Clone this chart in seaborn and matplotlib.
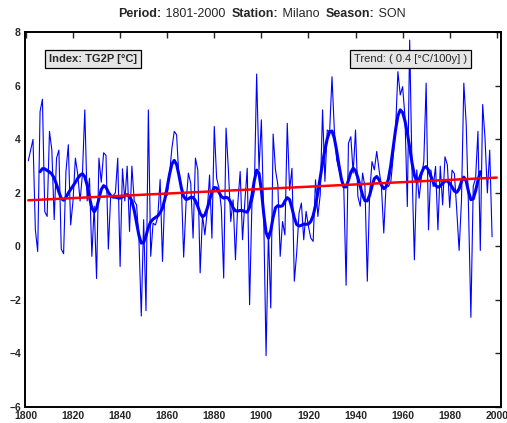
"""
Seasonal index time series (TG2P, Milano, SON) with smoothed curve and linear trend.
"""

import numpy as np
import pandas as pd
import matplotlib.pyplot as plt
import seaborn as sns

years = np.arange(1801, 2001)

# values, 1801-1998 (1999-2000 missing)
tg2p = [
    3.2, 3.6, 4.0, 0.62, -0.19, 5.04, 5.5, 1.3, 1.12, 4.3,      # 1801-1810
    3.6, 1.0, 3.3, 3.6, -0.1, -0.27, 2.8, 3.8, 0.8, 1.7,        # 1811-1820
    3.3, 2.7, 1.7, 2.7, 5.1, 1.7, 2.55, -0.37, 1.5, -1.2,       # 1821-1830
    3.3, 2.4, 3.5, 3.4, -0.1, 1.9, 1.9, 2.0, 3.3, -0.75,        # 1831-1840
    2.9, 1.7, 3.0, 0.56, 3.0, 1.7, 1.55, 0.25, -2.6, 1.0,       # 1841-1850
    -2.4, 5.1, -0.37, 0.87, 0.8, 1.1, 2.5, -0.56, 2.0, 1.9,     # 1851-1860
    2.7, 3.67, 4.3, 4.17, 2.55, 2.3, -0.4, 1.6, 2.74, 2.36,     # 1861-1870
    0.31, 3.3, 2.86, -0.99, 1.18, 0.43, 1.31, 2.67, 0.31, 4.48,  # 1871-1880
    2.55, 2.18, 1.43, -1.18, 4.42, 2.86, 0.93, 1.74, -0.5, 1.62,  # 1881-1890
    2.8, 0.25, 1.68, 2.92, -2.18, 1.62, 2.05, 6.44, 2.86, 4.73,  # 1891-1900
    1.12, -4.08, 0.5, -2.3, 4.2, 2.86, 2.3, -0.37, 0.93, 0.43,   # 1901-1910
    4.6, 2.1, 2.92, -1.3, -0.25, 1.25, 1.62, 0.25, 1.31, 0.75,   # 1911-1920
    0.31, 0.19, 2.49, 1.12, 1.93, 5.1, 2.43, 4.35, 4.29, 6.34,   # 1921-1930
    4.35, 3.24, 2.86, 2.55, 2.24, -1.45, 3.86, 4.1, 2.74, 4.35,  # 1931-1940
    1.87, 1.5, 2.74, 2.24, -1.3, 1.99, 3.17, 2.86, 3.55, 2.86,   # 1941-1950
    2.24, 0.5, 2.36, 2.24, 2.42, 3.36, 4.35, 6.53, 5.66, 5.97,   # 1951-1960
    4.85, 1.49, 7.71, 2.86, -0.5, 2.86, 1.8, 2.6, 3.17, 6.1,     # 1961-1970
    0.62, 2.86, 2.24, 2.99, 0.62, 3.0, 1.55, 3.35, 3.05, 1.45,   # 1971-1980
    2.85, 2.72, 1.35, -0.15, 1.7, 6.1, 4.6, 1.4, -2.65, 2.25,    # 1981-1990
    2.55, 4.3, -0.15, 5.3, 4.05, 2.0, 3.6, 0.36, np.nan, np.nan,  # 1991-2000
]

x_ticks = list(range(1800, 2001, 20))
y_ticks = list(range(-6, 9, 2))

title_parts = [("Period:", "bold"), (" 1801-2000  ", "normal"),
               ("Station:", "bold"), (" Milano  ", "normal"),
               ("Season:", "bold"), (" SON", "normal")]
index_label = "Index: TG2P [°C]"

df = pd.DataFrame({"year": years, "value": tg2p})

# 11-point gaussian-weighted smoothing
w = np.exp(-0.5 * (np.arange(-5, 6) / 2.0) ** 2)
w /= w.sum()
df["smooth"] = df["value"].rolling(11, center=True).apply(lambda v: np.sum(v * w), raw=True)

# linear trend
ok = df["value"].notna()
slope, intercept = np.polyfit(df.loc[ok, "year"], df.loc[ok, "value"], 1)
df["trend"] = intercept + slope * df["year"]

sns.set_style("white")
plt.rcParams["font.family"] = ["Liberation Sans", "DejaVu Sans"]

fig = plt.figure(figsize=(5.07, 4.23), dpi=100)
ax = fig.add_axes([0.0493, 0.0378, 0.9389, 0.8858])

sns.lineplot(data=df, x="year", y="value", color="blue", linewidth=0.8, ax=ax)
sns.lineplot(data=df, x="year", y="smooth", color="blue", linewidth=2.2, ax=ax)
sns.lineplot(data=df, x="year", y="trend", color="red", linewidth=1.8, ax=ax)

ax.set_xlim(1799.6, 2001.8)
ax.set_ylim(-6, 8)
ax.set_xticks(x_ticks)
ax.set_yticks(y_ticks)
ax.set_xlabel("")
ax.set_ylabel("")
ax.tick_params(direction="in", length=4, width=1, top=True, right=True,
               labelsize=7.5)
ax.tick_params(axis="x", pad=3)
ax.tick_params(axis="y", pad=3)
for lab in ax.get_xticklabels() + ax.get_yticklabels():
    lab.set_fontweight("bold")
for s in ax.spines.values():
    s.set_linewidth(1.4)
    s.set_color("black")

# title built from bold / normal pieces, centred above the axes
fig.canvas.draw()
renderer = fig.canvas.get_renderer()
pieces = []
total = 0.0
for txt, weight in title_parts:
    t = fig.text(0, 0.967, txt, fontsize=9, fontweight=weight, va="center", ha="left")
    wpx = t.get_window_extent(renderer).width
    pieces.append((t, wpx))
    total += wpx
x0 = 262 - total / 2
for t, wpx in pieces:
    t.set_x(x0 / fig.bbox.width)
    x0 += wpx

box = dict(boxstyle="square,pad=0.35", facecolor="#e6e6e6", edgecolor="black", linewidth=0.9)
ax.text(0.051, 0.929, index_label, transform=ax.transAxes, ha="left", va="center",
        fontsize=8, fontweight="bold", bbox=box)
ax.text(0.928, 0.929, "Trend: ( %.1f [°C/100y] )" % (slope * 100), transform=ax.transAxes,
        ha="right", va="center", fontsize=8, bbox=box)

fig.savefig("out.png", dpi=100)
plt.close(fig)
